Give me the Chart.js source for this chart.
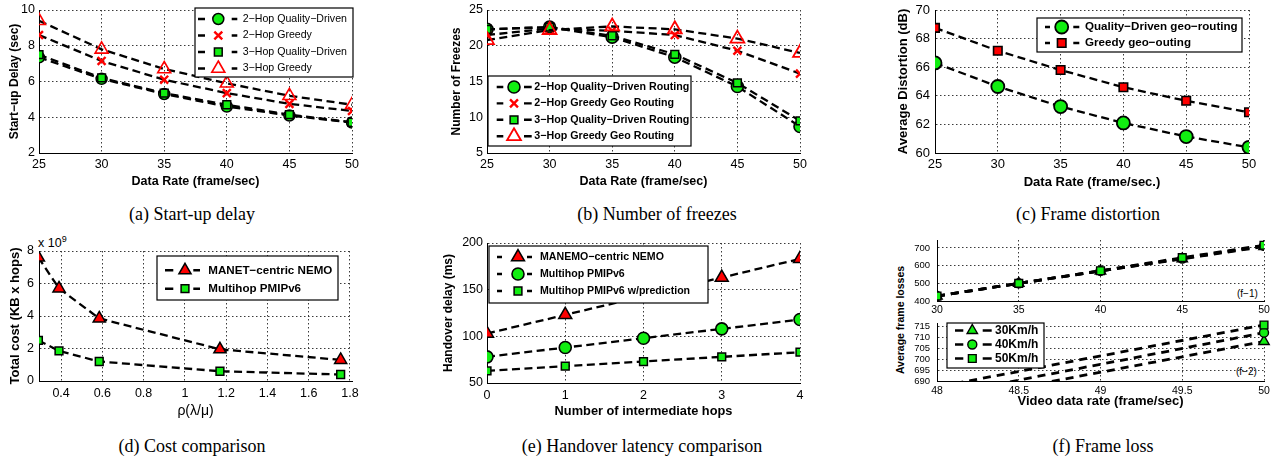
<!DOCTYPE html>
<html>
<head>
<meta charset="utf-8">
<title>Quality-driven routing results</title>
<script src="https://cdn.jsdelivr.net/npm/chart.js@4.4.1/dist/chart.umd.min.js"></script>
<style>
  html, body { margin: 0; padding: 0; background: #fff; }
  body { position: relative; width: 1276px; height: 458px; overflow: hidden; }
  .pane { position: absolute; }
  .cap { position: absolute; font: 18px/20px "Liberation Serif", "Times New Roman", serif; white-space: nowrap; transform: translateX(-50%); color: #000; }
  .note { position: absolute; font-family: "Liberation Sans", Arial, sans-serif; color: #000; white-space: nowrap; line-height: 1; }
</style>
</head>
<body>
<div class="cap" style="left:192px;top:204px">(a) Start-up delay</div>
<div class="cap" style="left:657px;top:204px">(b) Number of freezes</div>
<div class="cap" style="left:1088px;top:204px">(c) Frame distortion</div>
<div class="cap" style="left:192px;top:436px">(d) Cost comparison</div>
<div class="cap" style="left:642px;top:436px">(e) Handover latency comparison</div>
<div class="cap" style="left:1103px;top:436px">(f) Frame loss</div>

<div class="note" style="left:38px;top:235px;font-size:12.5px">x 10<sup style="font-size:9px">9</sup></div>
<div class="note" style="left:1237px;top:289px;font-size:10px">(f−1)</div>
<div class="note" style="left:1236px;top:367px;font-size:10px">(f−2)</div>
<div class="note" style="left:900px;top:320px;font-size:10.5px;font-weight:bold;transform:translate(-50%,-50%) rotate(-90deg)">Average frame losses</div>

<script>
// ---- data ----
const rateX = [25, 30, 35, 40, 45, 50];
const delay2QD = [7.35, 6.15, 5.3, 4.6, 4.1, 3.7];
const delay2Greedy = [8.6, 7.15, 6.1, 5.35, 4.75, 4.35];
const delay3QD = [7.5, 6.2, 5.35, 4.7, 4.15, 3.72];
const delay3Greedy = [9.4, 7.8, 6.7, 5.9, 5.2, 4.7];

const freeze2QD = [22.3, 22.6, 21.2, 18.4, 14.3, 8.7];
const freeze2Greedy = [21.5, 22.4, 22.1, 21.5, 19.3, 16.1];
const freeze3QD = [22.3, 22.6, 21.4, 18.8, 14.8, 9.5];
const freeze3Greedy = [20.8, 22.2, 22.7, 22.3, 21.0, 19.0];

const distQD = [66.3, 64.65, 63.25, 62.1, 61.15, 60.4];
const distGreedy = [68.75, 67.15, 65.8, 64.6, 63.65, 62.85];

const rho = [0.29, 0.39, 0.585, 1.17, 1.755];
const costManet = [7.6, 5.7, 3.85, 1.95, 1.3];   // x 10^9
const costPmip = [2.5, 1.85, 1.2, 0.6, 0.4];

const hops = [0, 1, 2, 3, 4];
const hoManemo = [103, 123, 143, 163, 183];
const hoPmip = [78, 88, 98, 108, 118];
const hoPred = [63, 68, 73, 78, 83];

const videoRate = [30, 35, 40, 45, 50];
const loss30 = [428, 500, 570, 638, 708];
const loss40 = [428, 500, 570, 640, 712];
const loss50 = [428, 500, 571, 645, 715.5];

// ---- styling ----
const SANS = '"Liberation Sans", Arial, sans-serif';
const GREEN = '#11ee11';
const RED = '#ff0000';
const NONE = 'rgba(0,0,0,0)';
const fmt = v => String(Math.round(v * 1000) / 1000);

// boxed legend drawn inside the plot like the MATLAB ones
const boxLegend = {
  id: 'boxLegend',
  afterDraw(chart, args, o) {
    if (!o || !o.box) return;
    const ctx = chart.ctx;
    const [x0, y0, x1, y1] = o.box;
    const drawPoint = Chart.helpers && Chart.helpers.drawPoint;
    ctx.save();
    ctx.fillStyle = '#fff';
    ctx.fillRect(x0, y0, x1 - x0, y1 - y0);
    ctx.strokeStyle = '#000';
    ctx.lineWidth = 1.2;
    ctx.strokeRect(x0, y0, x1 - x0, y1 - y0);
    ctx.font = o.font;
    ctx.textBaseline = 'middle';
    chart.data.datasets.forEach((ds, i) => {
      const y = o.rowY + i * o.rowStep;
      ctx.strokeStyle = '#000';
      ctx.lineWidth = 2.4;
      ctx.beginPath();
      ctx.moveTo(x0 + o.dash[0], y); ctx.lineTo(x0 + o.dash[1], y);
      ctx.moveTo(x0 + o.dash[2], y); ctx.lineTo(x0 + o.dash[3], y);
      ctx.stroke();
      ctx.fillStyle = ds.pointBackgroundColor;
      ctx.strokeStyle = ds.pointBorderColor;
      ctx.lineWidth = ds.pointBorderWidth;
      if (drawPoint) {
        drawPoint(ctx, {pointStyle: ds.pointStyle, radius: ds.pointRadius, borderWidth: ds.pointBorderWidth, rotation: 0}, x0 + o.mark, y);
      } else {
        ctx.beginPath(); ctx.arc(x0 + o.mark, y, ds.pointRadius, 0, Math.PI * 2); ctx.fill(); ctx.stroke();
      }
      ctx.fillStyle = '#000';
      ctx.fillText(ds.label, x0 + o.text, y);
    });
    ctx.restore();
  }
};

function series(label, xs, ys, style, r, fill, edge, bw) {
  return {label, xs, ys, style, r, fill, edge, bw};
}

// dotted grid: in v4 the grid dash comes from border.dash
function gridOpts() {
  return {display: true, drawOnChartArea: true, color: '#3a3a3a', lineWidth: 1, drawTicks: false};
}
function borderOpts() {
  return {display: true, color: '#000', width: 1, dash: [1.5, 2.5]};
}

// can / plot are page coordinates [left, top, right, bottom]
function panel(o) {
  const [cl, ct, cr, cb] = o.can;
  const [L, T, R, B] = o.plot;
  const wrap = document.createElement('div');
  wrap.className = 'pane';
  wrap.style.left = cl + 'px';
  wrap.style.top = ct + 'px';
  wrap.style.width = (cr - cl) + 'px';
  wrap.style.height = (cb - ct) + 'px';
  const cv = document.createElement('canvas');
  wrap.appendChild(cv);
  document.body.appendChild(wrap);

  let legend = null;
  if (o.legend) {
    const g = o.legend;
    legend = {
      box: [g.box[0] - cl, g.box[1] - ct, g.box[2] - cl, g.box[3] - ct],
      rowY: g.rowY - ct, rowStep: g.rowStep, dash: g.dash, mark: g.mark, text: g.text, font: g.font
    };
  }

  const xTitle = o.xTitle ? {
    display: true, text: o.xTitle.text, color: '#000',
    font: {family: SANS, size: o.xTitle.size, weight: o.xTitle.bold ? 'bold' : 'normal'},
    padding: {top: 0, bottom: cb - o.xTitle.y - o.xTitle.size * 0.6}
  } : {display: false};
  const yTitle = o.yTitle ? {
    display: true, text: o.yTitle.text, color: '#000',
    font: {family: SANS, size: o.yTitle.size, weight: 'bold'},
    padding: {top: o.yTitle.x - cl - o.yTitle.size * 0.6, bottom: 0}
  } : {display: false};

  return new Chart(cv, {
    type: 'line',
    data: {
      datasets: o.series.map((s, i) => ({
        label: s.label,
        data: s.ys.map((y, k) => ({x: s.xs[k], y})),
        borderColor: '#000',
        borderWidth: o.lineW || 2.3,
        borderDash: o.dash || [8, 4.5],
        pointStyle: s.style,
        pointRadius: s.r,
        pointHoverRadius: s.r,
        pointBackgroundColor: s.fill,
        pointBorderColor: s.edge,
        pointBorderWidth: s.bw,
        fill: false,
        tension: 0,
        order: -i,
        clip: o.clip
      }))
    },
    options: {
      responsive: true,
      maintainAspectRatio: false,
      animation: false,
      events: [],
      layout: {autoPadding: false, padding: {left: 0, top: T - ct, right: cr - R, bottom: 0}},
      plugins: {legend: {display: false}, tooltip: {enabled: false}, boxLegend: legend},
      scales: {
        x: {
          type: 'linear', min: o.x.min, max: o.x.max,
          ticks: {stepSize: o.x.step, callback: fmt, color: '#000', padding: o.x.pad,
                  font: {family: SANS, size: o.x.font}, maxRotation: 0, autoSkip: false, includeBounds: false},
          grid: gridOpts(), border: borderOpts(), title: xTitle,
          afterFit: s => { s.height = cb - B; s.paddingLeft = 0; s.paddingRight = 0; s.paddingTop = 0; s.paddingBottom = 0; }
        },
        y: {
          type: 'linear', min: o.y.min, max: o.y.max,
          ticks: {stepSize: o.y.step, callback: fmt, color: '#000', padding: o.y.pad,
                  font: {family: SANS, size: o.y.font}, autoSkip: false, includeBounds: false},
          grid: gridOpts(), border: borderOpts(), title: yTitle,
          afterFit: s => { s.width = L - cl; s.paddingLeft = 0; s.paddingRight = 0; s.paddingTop = 0; s.paddingBottom = 0; }
        }
      }
    },
    plugins: [boxLegend]
  });
}

// (a) start-up delay
panel({
  can: [0, 0, 364, 200], plot: [39, 10, 352, 153],
  x: {min: 25, max: 50, step: 5, font: 12.5, pad: 4},
  y: {min: 2, max: 10, step: 2, font: 12.5, pad: 4},
  xTitle: {text: 'Data Rate (frame/sec)', size: 12.5, bold: true, y: 182},
  yTitle: {text: 'Start−up Delay (sec)', size: 12, x: 15},
  series: [
    series('2−Hop Quality−Driven', rateX, delay2QD, 'circle', 5.5, GREEN, '#000', 1.5),
    series('2−Hop Greedy', rateX, delay2Greedy, 'crossRot', 5.6, RED, RED, 2.4),
    series('3−Hop Quality−Driven', rateX, delay3QD, 'rect', 5.5, GREEN, '#000', 1.5),
    series('3−Hop Greedy', rateX, delay3Greedy, 'triangle', 7.5, NONE, RED, 1.6)
  ],
  legend: {box: [195, 8, 353, 77], rowY: 19, rowStep: 16.5, dash: [3, 10, 36.7, 42.3], mark: 23.3, text: 47.7,
           font: '10.6px ' + SANS}
});

// (b) number of freezes
panel({
  can: [440, 0, 812, 200], plot: [487, 10, 800, 153],
  x: {min: 25, max: 50, step: 5, font: 12.5, pad: 4},
  y: {min: 5, max: 25, step: 5, font: 12.5, pad: 4},
  xTitle: {text: 'Data Rate (frame/sec)', size: 12.5, bold: true, y: 182},
  yTitle: {text: 'Number of Freezes', size: 12, x: 457},
  series: [
    series('2−Hop Quality−Driven Routing', rateX, freeze2QD, 'circle', 6, GREEN, '#000', 1.6),
    series('2−Hop Greedy Geo Routing', rateX, freeze2Greedy, 'crossRot', 5.6, RED, RED, 2.4),
    series('3−Hop Quality−Driven Routing', rateX, freeze3QD, 'rect', 5.5, GREEN, '#000', 1.5),
    series('3−Hop Greedy Geo Routing', rateX, freeze3Greedy, 'triangle', 8, NONE, RED, 1.8)
  ],
  legend: {box: [488, 76, 691, 146], rowY: 87, rowStep: 16.4, dash: [8.7, 15.3, 36, 43.7], mark: 26, text: 46.3,
           font: 'bold 10.7px ' + SANS}
});

// (c) frame distortion
panel({
  can: [888, 0, 1262, 200], plot: [935, 10, 1249, 153],
  x: {min: 25, max: 50, step: 5, font: 13, pad: 4},
  y: {min: 60, max: 70, step: 2, font: 13, pad: 5},
  xTitle: {text: 'Data Rate (frame/sec.)', size: 13, bold: true, y: 182},
  yTitle: {text: 'Average Distortion (dB)', size: 13, x: 903},
  series: [
    series('Quality−Driven geo−routing', rateX, distQD, 'circle', 6.5, GREEN, '#000', 1.8),
    series('Greedy geo−outing', rateX, distGreedy, 'rect', 6, RED, '#000', 1.6)
  ],
  legend: {box: [1037, 18, 1242, 52], rowY: 27, rowStep: 16, dash: [8, 13, 36.3, 42.3], mark: 24.7, text: 48,
           font: 'bold 11.6px ' + SANS}
});

// (d) cost comparison
panel({
  can: [0, 236, 364, 425], plot: [39, 251, 352, 381],
  x: {min: 0.293, max: 1.81, step: 0.2, font: 12.5, pad: 5},
  y: {min: 0, max: 8, step: 2, font: 12.5, pad: 5},
  xTitle: {text: 'ρ(λ/μ)', size: 14, bold: false, y: 411},
  yTitle: {text: 'Total cost (KB x hops)', size: 13, x: 15},
  series: [
    series('MANET−centric NEMO', rho, costManet, 'triangle', 7, RED, '#000', 1.5),
    series('Multihop PMIPv6', rho, costPmip, 'rect', 5.5, GREEN, '#000', 1.5)
  ],
  legend: {box: [157, 256, 338, 300], rowY: 270.3, rowStep: 18.4, dash: [8, 16.3, 36.3, 43], mark: 28, text: 51.3,
           font: 'bold 11.6px ' + SANS}
});

// (e) handover latency
panel({
  can: [436, 230, 812, 425], plot: [487, 243, 800, 383],
  x: {min: 0, max: 4, step: 1, font: 12.5, pad: 5},
  y: {min: 50, max: 200, step: 50, font: 12.5, pad: 4},
  xTitle: {text: 'Number of intermediate hops', size: 12.8, bold: true, y: 411},
  yTitle: {text: 'Handover delay (ms)', size: 12, x: 449},
  series: [
    series('MANEMO−centric NEMO', hops, hoManemo, 'triangle', 7.5, RED, '#000', 1.5),
    series('Multihop PMIPv6', hops, hoPmip, 'circle', 6, GREEN, '#000', 1.6),
    series('Multihop PMIPv6 w/prediction', hops, hoPred, 'rect', 5.5, GREEN, '#000', 1.5)
  ],
  legend: {box: [489, 246, 708, 303], rowY: 257, rowStep: 17, dash: [8, 13, 38, 43], mark: 29, text: 51,
           font: 'bold 10.6px ' + SANS}
});

// (f-1) frame loss, full range
const lossSeries = [
  series('30Km/h', videoRate, loss30, 'triangle', 6, GREEN, '#000', 1.4),
  series('40Km/h', videoRate, loss40, 'circle', 4.5, GREEN, '#000', 1.4),
  series('50Km/h', videoRate, loss50, 'rect', 5.5, GREEN, '#000', 1.4)
];
panel({
  can: [905, 228, 1276, 318], plot: [937, 240, 1264, 301],
  x: {min: 30, max: 50, step: 5, font: 10.5, pad: 3},
  y: {min: 400, max: 745, step: 100, font: 9.5, pad: 7},
  lineW: 2.8, dash: [8, 6],
  series: lossSeries
});

// (f-2) frame loss, zoom on 48..50
panel({
  can: [905, 312, 1276, 412], plot: [937, 323, 1264, 381],
  x: {min: 48, max: 50, step: 0.5, font: 10.5, pad: 4},
  y: {min: 690, max: 716.4, step: 5, font: 9.5, pad: 7},
  xTitle: {text: 'Video data rate (frame/sec)', size: 13, bold: true, y: 401},
  lineW: 2.8, dash: [8, 6],
  clip: {left: 0, top: 8, right: 8, bottom: 0},
  series: lossSeries,
  legend: {box: [947, 323, 1044, 368], rowY: 330.5, rowStep: 14, dash: [8, 16.3, 35.7, 44.7], mark: 25.3, text: 48,
           font: 'bold 12px ' + SANS}
});
</script>
</body>
</html>
